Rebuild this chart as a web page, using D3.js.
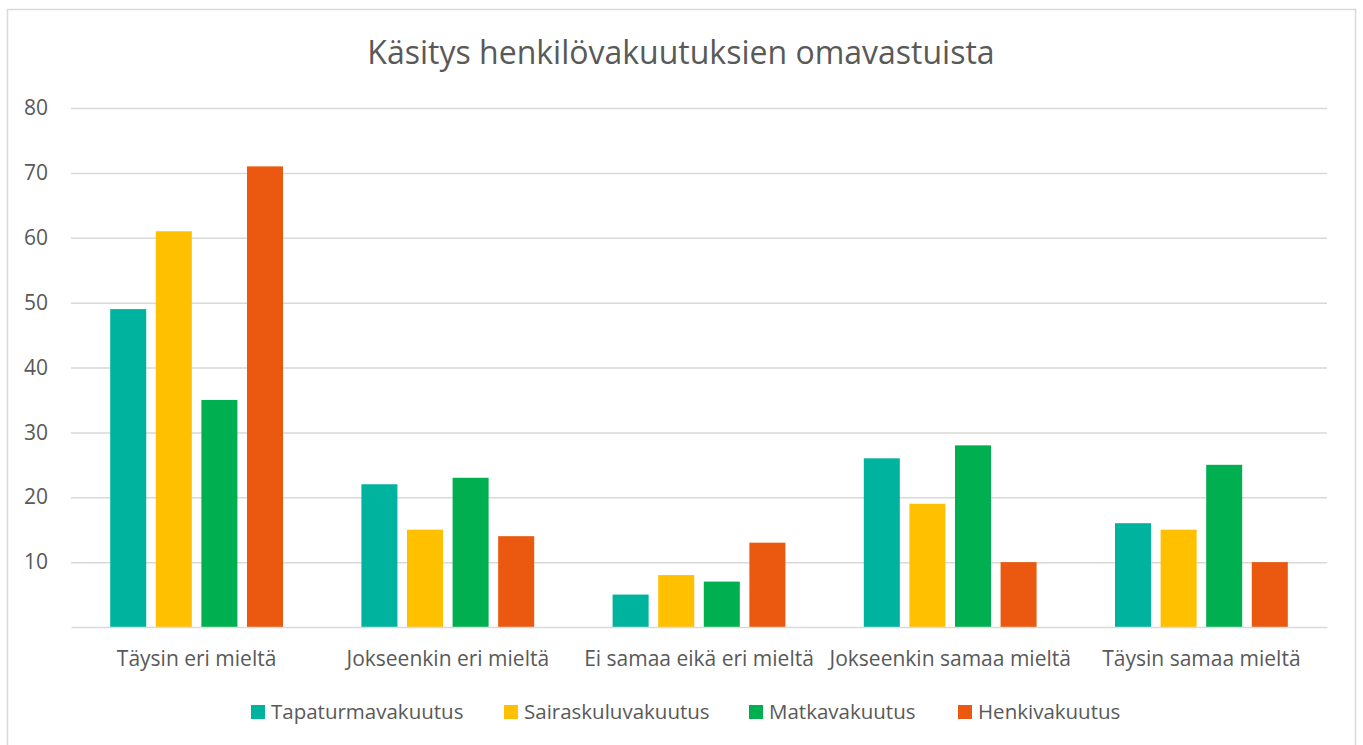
<!DOCTYPE html>
<html>
<head>
<meta charset="utf-8">
<script src="https://cdn.jsdelivr.net/npm/d3@7"></script>
<style>
  body { margin: 0; background: #fff; }
  text { font-family: "Open Sans", "Noto Sans", sans-serif; fill: #595959; }
</style>
</head>
<body>
<div id="chartContainer"></div>
<script>
// chart data
const categories = ["Täysin eri mieltä", "Jokseenkin eri mieltä", "Ei samaa eikä eri mieltä", "Jokseenkin samaa mieltä", "Täysin samaa mieltä"];
const seriesNames = ["Tapaturmavakuutus", "Sairaskuluvakuutus", "Matkavakuutus", "Henkivakuutus"];
const tapaturma = [49, 22, 5, 26, 16];
const sairaskulu = [61, 15, 8, 19, 15];
const matka = [35, 23, 7, 28, 25];
const henki = [71, 14, 13, 10, 10];
const yTicks = [10, 20, 30, 40, 50, 60, 70, 80];

const seriesValues = [tapaturma, sairaskulu, matka, henki];
const colors = ["#00B39E", "#FFC000", "#00B050", "#EA590F"];

// chart properties
const BOX_WIDTH = 1363;
const BOX_HEIGHT = 745;
const PLOT_LEFT = 71;
const PLOT_RIGHT = 1327;
const PLOT_TOP = 108;
const PLOT_BOTTOM = 627;
const LABEL_SIZE = 21;

const svg = d3.select("#chartContainer")
    .append("svg")
    .attr("width", BOX_WIDTH)
    .attr("height", BOX_HEIGHT);

// outer border
svg.append("rect")
    .attr("x", 7.5)
    .attr("y", 9.5)
    .attr("width", 1348)
    .attr("height", 745)
    .attr("fill", "none")
    .attr("stroke", "#d9d9d9")
    .attr("stroke-width", 1.5);

// title
svg.append("text")
    .attr("x", 681)
    .attr("y", 64)
    .attr("text-anchor", "middle")
    .style("font-size", "32px")
    .text("Käsitys henkilövakuutuksien omavastuista");

const xScale = d3.scaleBand()
    .domain(categories)
    .range([PLOT_LEFT, PLOT_RIGHT])
    .padding(0);

const innerScale = d3.scaleBand()
    .domain(d3.range(seriesNames.length))
    .range([0, xScale.bandwidth()])
    .paddingInner(0.21)
    .paddingOuter(0.86);

const yScale = d3.scaleLinear()
    .domain([0, 80])
    .range([PLOT_BOTTOM, PLOT_TOP]);

// gridlines + y labels
const yAxis = d3.axisLeft(yScale)
    .tickValues(yTicks)
    .tickSize(-(PLOT_RIGHT - PLOT_LEFT))
    .tickPadding(23);

const yG = svg.append("g")
    .attr("transform", `translate(${PLOT_LEFT}, 0)`)
    .call(yAxis);
yG.select(".domain").remove();
yG.selectAll(".tick line").attr("stroke", "#d9d9d9").attr("stroke-width", 1.5);
yG.selectAll(".tick text").style("font-size", LABEL_SIZE + "px").attr("fill", "#595959");

// bars
categories.forEach((cat, ci) => {
    seriesValues.forEach((vals, si) => {
        svg.append("rect")
            .attr("x", xScale(cat) + innerScale(si))
            .attr("y", yScale(vals[ci]))
            .attr("width", innerScale.bandwidth())
            .attr("height", yScale(0) - yScale(vals[ci]))
            .attr("fill", colors[si]);
    });
});

// x axis
const xAxis = d3.axisBottom(xScale).tickSize(0).tickPadding(24);
const xG = svg.append("g")
    .attr("transform", `translate(0, ${PLOT_BOTTOM})`)
    .call(xAxis);
xG.select(".domain").attr("stroke", "#d9d9d9").attr("stroke-width", 1.5);
xG.selectAll(".tick text").style("font-size", LABEL_SIZE + "px").attr("fill", "#595959");

// legend
const legendX = [251, 504, 749, 958];
const legend = svg.append("g");
seriesNames.forEach((name, i) => {
    legend.append("rect")
        .attr("x", legendX[i])
        .attr("y", 705)
        .attr("width", 14)
        .attr("height", 14)
        .attr("fill", colors[i]);
    legend.append("text")
        .attr("x", legendX[i] + 20)
        .attr("y", 719)
        .style("font-size", "20.5px")
        .text(name);
});
</script>
</body>
</html>
